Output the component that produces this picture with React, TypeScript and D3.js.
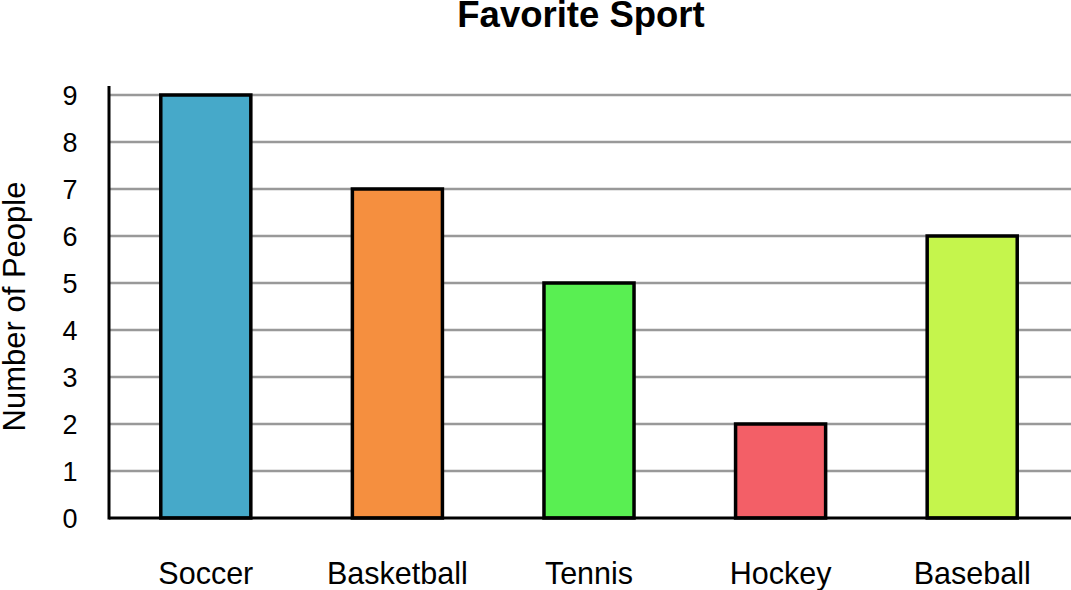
import * as d3 from 'd3'

const sports = ['Soccer', 'Basketball', 'Tennis', 'Hockey', 'Baseball']
const people = [9, 7, 5, 2, 6]
const barColors = ['#46a9c9', '#f58f3f', '#59ef52', '#f35f67', '#c5f54c']
const yTicks = [0, 1, 2, 3, 4, 5, 6, 7, 8, 9]

const width = 1071
const height = 590
const margin = { top: 95, right: 0, bottom: 72, left: 109 }
const font = 'Liberation Sans, Arial, sans-serif'

export default function App() {
  const x = d3
    .scaleBand<string>()
    .domain(sports)
    .range([110, 1068])
    .paddingInner(0.53)
    .paddingOuter(0.265)

  const y = d3
    .scaleLinear()
    .domain([0, 9])
    .range([height - margin.bottom, margin.top])

  return (
    <svg
      width={width}
      height={height}
      style={{ position: 'absolute', left: 0, top: 0, background: '#fff' }}
      fontFamily={font}
    >
      <text x={581} y={27} textAnchor="middle" fontSize={36.5} fontWeight="bold">
        Favorite Sport
      </text>

      {yTicks.slice(1).map((t) => (
        <line
          key={t}
          x1={margin.left}
          x2={width - margin.right}
          y1={y(t)}
          y2={y(t)}
          stroke="#999"
          strokeWidth={2.5}
        />
      ))}

      {yTicks.map((t) => (
        <text key={t} x={70} y={y(t)} dy="0.36em" textAnchor="middle" fontSize={27}>
          {t}
        </text>
      ))}

      <text
        transform={`translate(24.5,${(y(0) + y(9)) / 2}) rotate(-90)`}
        textAnchor="middle"
        fontSize={31}
      >
        Number of People
      </text>

      {sports.map((s, i) => (
        <rect
          key={s}
          x={x(s)}
          y={y(people[i])}
          width={x.bandwidth()}
          height={y(0) - y(people[i])}
          fill={barColors[i]}
          stroke="#000"
          strokeWidth={3.5}
        />
      ))}

      <line x1={margin.left} x2={width} y1={y(0)} y2={y(0)} stroke="#000" strokeWidth={3} />
      <line x1={margin.left} x2={margin.left} y1={86} y2={y(0) + 1.5} stroke="#000" strokeWidth={3} />

      {sports.map((s) => (
        <text key={s} x={(x(s) ?? 0) + x.bandwidth() / 2} y={584} textAnchor="middle" fontSize={30.5}>
          {s}
        </text>
      ))}
    </svg>
  )
}
